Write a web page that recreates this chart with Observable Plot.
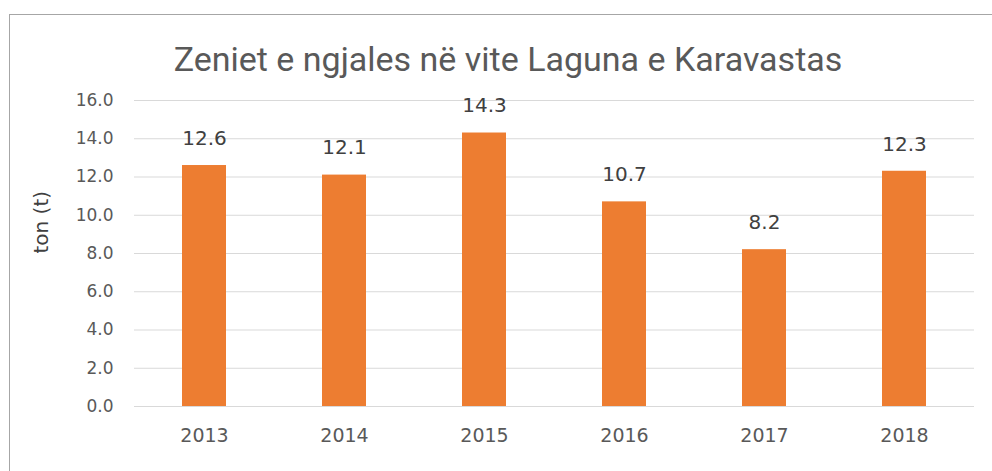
<!DOCTYPE html>
<html>
<head>
<meta charset="utf-8">
<script src="https://cdn.jsdelivr.net/npm/d3@7"></script>
<script src="https://cdn.jsdelivr.net/npm/@observablehq/plot@0.6"></script>
<style>
  html, body { margin: 0; padding: 0; background: #fff; overflow: hidden; }
  #page { position: relative; width: 992px; height: 471px; }
  #frame { position: absolute; left: 9px; top: 14px; width: 1100px; height: 600px; border: 1px solid #a6a6a6; box-sizing: border-box; }
  #title { position: absolute; left: 0; top: 0; width: 992px; height: 80px; }
  #title div { position: absolute; left: 0; width: 1016px; top: 39px; text-align: center;
    font-family: "Roboto", sans-serif; font-size: 34px; color: #595959; line-height: 40px; }
  #chart { position: absolute; left: 0; top: 80px; }
</style>
</head>
<body>
<div id="page">
  <div id="frame"></div>
  <div id="title"><div>Zeniet e ngjales në vite Laguna e Karavastas</div></div>
  <div id="chart"></div>
</div>
<script>
const years = ["2013", "2014", "2015", "2016", "2017", "2018"];
const values = [12.6, 12.1, 14.3, 10.7, 8.2, 12.3];
const yTicks = [0, 2, 4, 6, 8, 10, 12, 14, 16];
const yLabel = "ton (t)";

const data = years.map((y, i) => ({year: y, value: values[i]}));

const chart = Plot.plot({
  width: 992,
  height: 391,
  marginTop: 20,
  marginBottom: 65,
  marginLeft: 134,
  marginRight: 18,
  style: {fontFamily: "DejaVu Sans, sans-serif", background: "transparent", overflow: "visible"},
  x: {domain: years, paddingInner: 0.686, paddingOuter: 0.343, label: null},
  y: {domain: [0, 16], label: null},
  marks: [
    Plot.ruleY(yTicks, {stroke: "#d9d9d9", strokeWidth: 1.2}),
    Plot.barY(data, {x: "year", y: "value", fill: "#ED7D31"}),
    Plot.text(data, {x: "year", y: "value", text: d => d.value.toFixed(1), dy: -27, lineAnchor: "middle", fontSize: 20, fill: "#404040"}),
    Plot.axisY({ticks: yTicks, tickFormat: d => d.toFixed(1), tickSize: 0, tickPadding: 21, fontSize: 17, fill: "#595959", label: null, style: {letterSpacing: "2px"}}),
    Plot.axisX({tickSize: 0, tickPadding: 22, fontSize: 19, fill: "#595959", label: null}),
    Plot.text([yLabel], {frameAnchor: "left", dx: -93, rotate: -90, fontSize: 20, fill: "#404040"})
  ]
});
document.getElementById("chart").appendChild(chart);
</script>
</body>
</html>
